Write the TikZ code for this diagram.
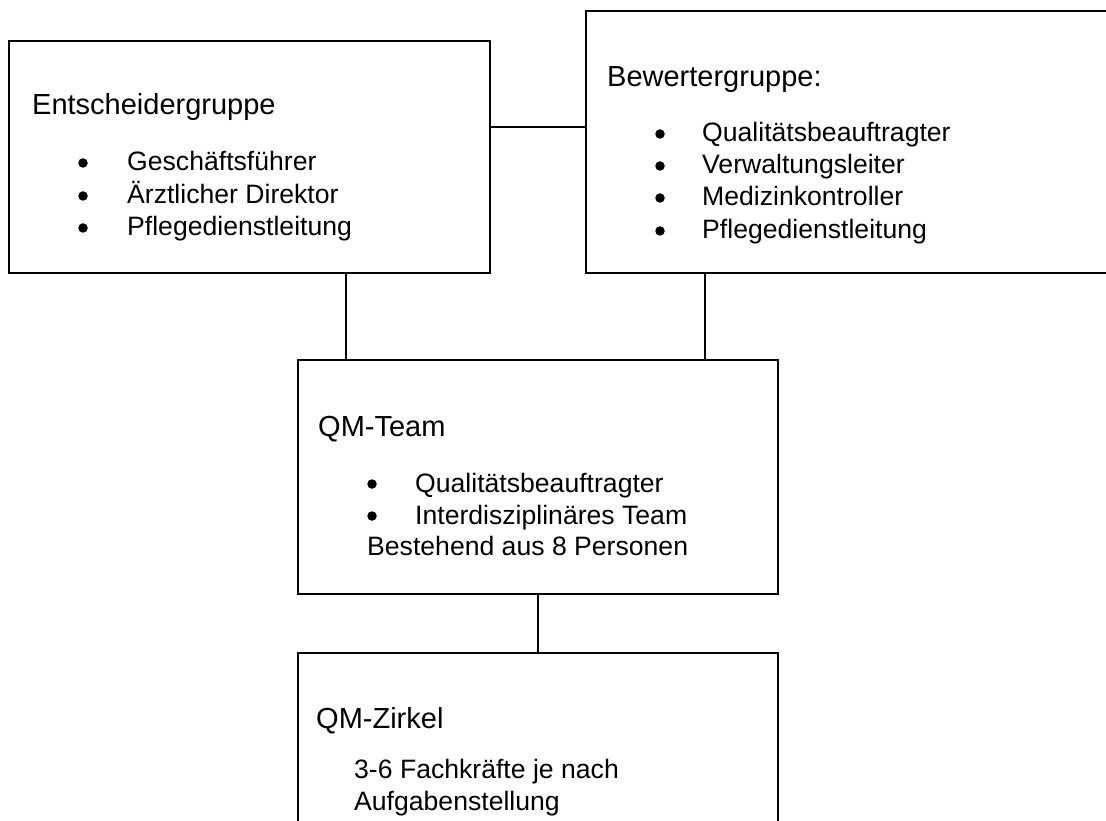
\documentclass[tikz,border=0pt]{standalone}
\usepackage{fontspec}
\setmainfont{Liberation Sans}
\begin{document}
\begin{tikzpicture}[x=1pt,y=-1pt,
  box/.style={draw=black, line width=1.8pt, rectangle, inner sep=0pt, fill=none},
  link/.style={draw=black, line width=1.4pt},
  ttl/.style={anchor=base west, inner sep=0pt, font=\fontsize{29}{34}\selectfont},
  itm/.style={anchor=base west, inner sep=0pt, font=\fontsize{26.6}{32}\selectfont},
  bul/.style={circle, fill=black, inner sep=0pt, minimum size=9.5pt, yshift=8pt}]
\useasboundingbox (0,0) rectangle (1106,821);
\clip (0,0) rectangle (1106,821);
\fill[white] (0,0) rectangle (1106,821);
% boxes
\node[box, minimum width=481pt, minimum height=232pt] (b1) at (249.5,157) {};
\node[box, minimum width=544pt, minimum height=262pt] (b2) at (858,142) {};
\node[box, minimum width=480pt, minimum height=234pt] (b3) at (538,477) {};
\node[box, minimum width=480pt, minimum height=200pt] (b4) at (538,753) {};
% helper coordinates
\coordinate (h) at (0,127);
\coordinate (v1) at (346,0);
\coordinate (v2) at (705,0);
% connectors
\draw[link] (b1.east |- h) -- (b2.west |- h);
\draw[link] (b1.south -| v1) -- (b3.north -| v1);
\draw[link] (b2.south -| v2) -- (b3.north -| v2);
\draw[link] (b3.south) -- (b4.north);
% box 1
\node[ttl] (t1) at (32,115) {Entscheidergruppe};
\node[bul] (p11) at (83,171) {};
\node[itm] (i11) at (127,171) {Geschäftsführer};
\node[bul] (p12) at (83,204) {};
\node[itm] (i12) at (127,204) {Ärztlicher Direktor};
\node[bul] (p13) at (83,236) {};
\node[itm] (i13) at (127,236) {Pflegedienstleitung};
% box 2
\node[ttl] (t2) at (607,87) {Bewertergruppe:};
\node[bul] (p21) at (660,142) {};
\node[itm] (i21) at (702,142) {Qualitätsbeauftragter};
\node[bul] (p22) at (660,174) {};
\node[itm] (i22) at (702,174) {Verwaltungsleiter};
\node[bul] (p23) at (660,206) {};
\node[itm] (i23) at (702,206) {Medizinkontroller};
\node[bul] (p24) at (660,239) {};
\node[itm] (i24) at (702,239) {Pflegedienstleitung};
% box 3
\node[ttl] (t3) at (318,436) {QM-Team};
\node[bul] (p31) at (372,492) {};
\node[itm] (i31) at (415,492) {Qualitätsbeauftragter};
\node[bul] (p32) at (372,524) {};
\node[itm] (i32) at (415,524) {Interdisziplinäres Team};
\node[itm] (i33) at (367,555) {Bestehend aus 8 Personen};
% box 4
\node[ttl] (t4) at (316,728) {QM-Zirkel};
\node[itm] (i41) at (354,778) {3-6 Fachkräfte je nach};
\node[itm] (i42) at (354,810) {Aufgabenstellung};
\end{tikzpicture}
\end{document}
